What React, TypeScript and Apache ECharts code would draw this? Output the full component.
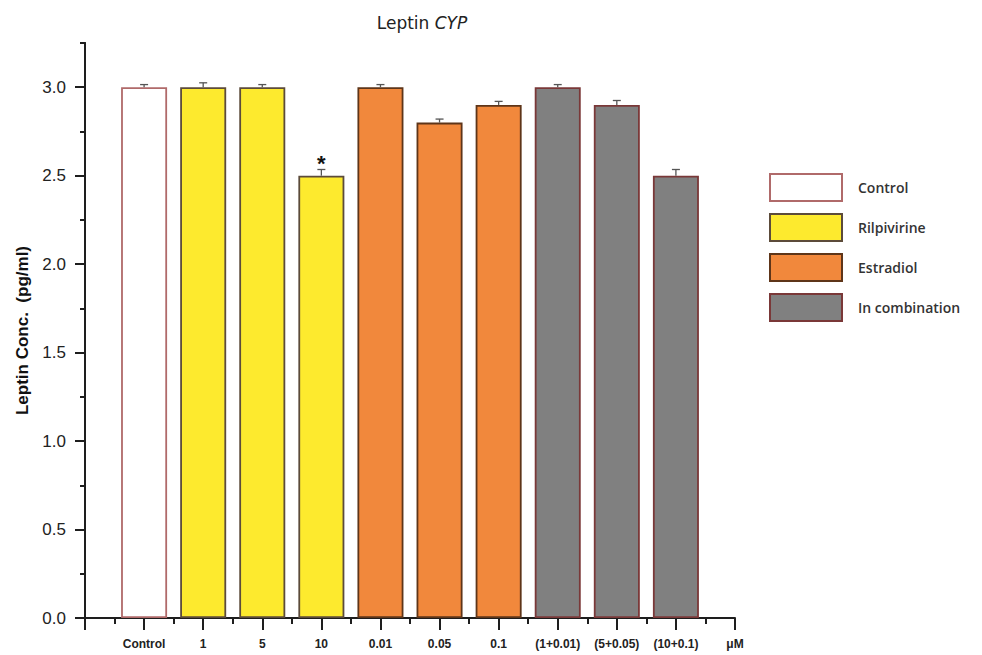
import React, { useEffect, useRef } from "react";
import * as echarts from "echarts";

// ---- data ----
const xTickLabels = ["", "Control", "1", "5", "10", "0.01", "0.05", "0.1", "(1+0.01)", "(5+0.05)", "(10+0.1)", "μM"];
const barGroups = ["Control", "Rilpivirine", "Rilpivirine", "Rilpivirine", "Estradiol", "Estradiol", "Estradiol", "In combination", "In combination", "In combination"];
const barValues = [3.0, 3.0, 3.0, 2.5, 3.0, 2.8, 2.9, 3.0, 2.9, 2.5];
const barErrors = [0.015, 0.025, 0.015, 0.035, 0.015, 0.02, 0.02, 0.015, 0.025, 0.035];
const significance = ["", "", "", "*", "", "", "", "", "", ""];
const legendNames = ["Control", "Rilpivirine", "Estradiol", "In combination"];
const yMajorTicks = [0, 0.5, 1.0, 1.5, 2.0, 2.5, 3.0];
const yMinorTicks = [0.25, 0.75, 1.25, 1.75, 2.25, 2.75, 3.25];

const groupStyles: Record<string, { color: string; borderColor: string }> = {
  Control: { color: "#ffffff", borderColor: "#b06a6a" },
  Rilpivirine: { color: "#fdea2e", borderColor: "#5c4b3a" },
  Estradiol: { color: "#f1883c", borderColor: "#5e3519" },
  "In combination": { color: "#808080", borderColor: "#7a3838" },
};

export default function App() {
  const ref = useRef<HTMLDivElement>(null);
  useEffect(() => {
    if (!ref.current) return;
    const chart = echarts.init(ref.current, undefined, { renderer: "svg" });
    const axisColor = "#1e1e1e";
    const barSeries = legendNames.map((g) => ({
      name: g,
      type: "bar",
      xAxisIndex: 0,
      yAxisIndex: 0,
      barWidth: 46,
      barGap: "-100%",
      itemStyle: { color: groupStyles[g].color, borderColor: groupStyles[g].borderColor, borderWidth: 1.8 },
      data: barValues
        .map((v, i) => (barGroups[i] === g ? [i + 1, v] : null))
        .filter((d) => d !== null),
      z: 2,
    }));
    const errorSeries = {
      type: "custom",
      name: "err",
      xAxisIndex: 0,
      yAxisIndex: 0,
      z: 5,
      data: barValues.map((v, i) => [i + 1, v, barErrors[i]]),
      renderItem: (params: any, api: any) => {
        const x = api.value(0);
        const v = api.value(1);
        const e = api.value(2);
        const p0 = api.coord([x, v]);
        const p1 = api.coord([x, v + e]);
        const style = { stroke: "#555", lineWidth: 1.3 };
        const children: any[] = [
          { type: "line", shape: { x1: p0[0], y1: p0[1], x2: p1[0], y2: p1[1] }, style },
          { type: "line", shape: { x1: p1[0] - 4, y1: p1[1], x2: p1[0] + 4, y2: p1[1] }, style },
        ];
        const s = significance[params.dataIndex];
        if (s) {
          children.push({
            type: "text",
            x: p1[0],
            y: p1[1] + 5,
            style: {
              text: s,
              fill: "#111",
              font: "bold 22px 'Liberation Sans', Arial, sans-serif",
              align: "center",
              verticalAlign: "bottom",
            },
          });
        }
        return { type: "group", children };
      },
    };
    chart.setOption({
      animation: false,
      backgroundColor: "#ffffff",
      title: {
        text: "Leptin {i|CYP}",
        left: 417,
        textAlign: "center",
        top: 9,
        textStyle: {
          fontFamily: "'DejaVu Sans', sans-serif",
          fontSize: 17,
          fontWeight: "normal",
          color: "#222",
          rich: { i: { fontStyle: "italic", fontSize: 17, fontFamily: "'DejaVu Sans', sans-serif", color: "#222" } },
        },
      },
      legend: {
        orient: "vertical",
        left: 769,
        top: 173,
        padding: 0,
        itemWidth: 72,
        itemHeight: 27,
        itemGap: 11,
        icon: "rect",
        data: legendNames,
        textStyle: {
          fontFamily: "'Open Sans', sans-serif",
          fontSize: 14,
          fontWeight: 600,
          color: "#333",
          padding: [0, 0, 0, 11],
        },
      },
      grid: { left: 85, right: 247, top: 43, bottom: 37, containLabel: false },
      xAxis: [
        {
          type: "value",
          min: 0,
          max: 11,
          interval: 1,
          axisLine: { show: true, lineStyle: { color: axisColor, width: 2 } },
          axisTick: { show: true, length: 12, lineStyle: { color: axisColor, width: 2 } },
          minorTick: { show: true, splitNumber: 2, length: 6, lineStyle: { color: axisColor, width: 2 } },
          splitLine: { show: false },
          minorSplitLine: { show: false },
          axisLabel: {
            margin: 20,
            fontFamily: "'Liberation Sans Narrow', 'Liberation Sans', Arial, sans-serif",
            fontWeight: "bold",
            fontSize: 12,
            color: "#222",
            formatter: (v: number) => xTickLabels[Math.round(v)] ?? "",
          },
        },
      ],
      yAxis: [
        {
          type: "value",
          min: 0,
          max: 3.25,
          name: "Leptin Conc.  (pg/ml)",
          nameLocation: "middle",
          nameGap: 53,
          nameTextStyle: {
            fontFamily: "'Liberation Sans', Arial, sans-serif",
            fontWeight: "bold",
            fontSize: 17,
            color: "#111",
          },
          axisLine: { show: true, lineStyle: { color: axisColor, width: 2 } },
          axisTick: { show: true, length: 10, customValues: yMajorTicks, lineStyle: { color: axisColor, width: 2 } },
          axisLabel: {
            customValues: yMajorTicks,
            margin: 19,
            fontFamily: "'Liberation Sans', Arial, sans-serif",
            fontSize: 17,
            color: "#222",
            formatter: (v: number) => v.toFixed(1),
          },
          splitLine: { show: false },
        },
        {
          type: "value",
          min: 0,
          max: 3.25,
          position: "left",
          axisLine: { show: true, lineStyle: { color: axisColor, width: 2 } },
          axisTick: { show: true, length: 5, customValues: yMinorTicks, lineStyle: { color: axisColor, width: 2 } },
          axisLabel: { show: false },
          splitLine: { show: false },
        },
      ],
      series: [...barSeries, errorSeries],
    });
    return () => chart.dispose();
  }, []);
  return <div ref={ref} style={{ width: 982, height: 655, position: "absolute", left: 0, top: 0 }} />;
}
